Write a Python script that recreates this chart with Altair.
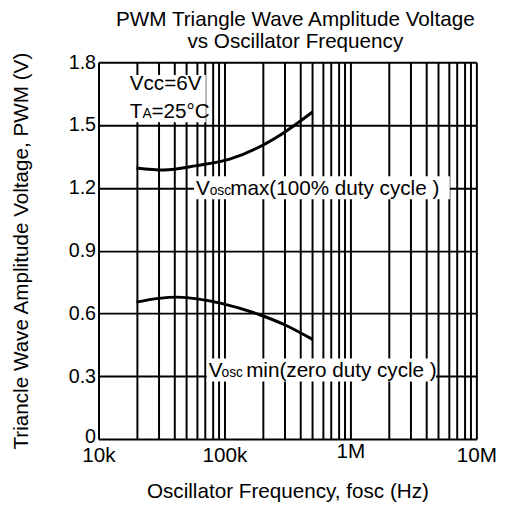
import altair as alt
import pandas as pd

FONT = "Liberation Sans"

# ---- curve data ----
freq_max = [20000, 33000, 60000, 110000, 180000, 290000, 500000]
vosc_max = [1.295, 1.285, 1.306, 1.337, 1.389, 1.460, 1.562]
freq_min = [20000, 30000, 42000, 98000, 188000, 300000, 500000]
vosc_min = [0.654, 0.672, 0.678, 0.646, 0.595, 0.546, 0.476]

# ---- axis ticks ----
x_ticks = [10000, 20000, 30000, 40000, 50000, 60000, 70000, 80000, 90000,
           100000, 200000, 300000, 400000, 500000, 600000, 700000, 800000, 900000,
           1000000, 2000000, 3000000, 4000000, 5000000, 6000000, 7000000, 8000000, 9000000,
           10000000]
y_ticks = [0, 0.3, 0.6, 0.9, 1.2, 1.5, 1.8]

# ---- annotation boxes (white backgrounds) ----
box_f = [17100, 57300, 72300]
box_f2 = [71000, 6150000, 4780000]
box_v = [1.513, 1.145, 0.275]
box_v2 = [1.739, 1.255, 0.385]

# ---- annotation anchors / texts ----
cond_f = 17700
cond_v = [1.70, 1.565]
max_f, max_v = 59300, 1.2
min_f, min_v = 75000, 0.33

X = alt.X(
    "f:Q",
    scale=alt.Scale(type="log", domain=[1e4, 1e7], nice=False),
    axis=alt.Axis(
        values=x_ticks,
        labelExpr=("datum.value == 10000 ? '10k' : datum.value == 100000 ? '100k' : "
                   "datum.value == 1000000 ? '1M' : datum.value == 10000000 ? '10M' : ''"),
        title="Oscillator Frequency, fosc (Hz)",
        grid=True, gridColor="black", gridWidth=2, gridOpacity=1,
        ticks=False, domain=False,
        labelFont=FONT, labelFontSize=21, labelColor="black",
        labelPadding={"condition": {"test": "datum.value == 1000000", "value": 2}, "value": 6},
        labelOverlap=False, labelFlush=False,
        titleFont=FONT, titleFontSize=21, titleFontWeight="normal", titleColor="black",
        titlePadding=15,
    ),
)
Y = alt.Y(
    "v:Q",
    scale=alt.Scale(domain=[0, 1.8], nice=False, zero=True),
    axis=alt.Axis(
        values=y_ticks,
        labelExpr="datum.value == 0 ? '0' : format(datum.value, '.1f')",
        title="Triancle Wave Amplitude Voltage, PWM (V)",
        grid=True, gridColor="black", gridWidth=2, gridOpacity=1,
        ticks=False, domain=False,
        labelFont=FONT, labelFontSize=20, labelColor="black", labelPadding=3,
        labelOffset={"condition": {"test": "datum.value == 0", "value": -3}, "value": 0},
        labelOverlap=False, labelFlush=False,
        titleFont=FONT, titleFontSize=21, titleFontWeight="normal", titleColor="black",
        titlePadding=37,
    ),
)

boxes = alt.Chart(pd.DataFrame({"f": box_f, "f2": box_f2, "v": box_v, "v2": box_v2})).mark_rect(
    color="white", opacity=1
).encode(x=X, x2="f2:Q", y=Y, y2="v2:Q")

curves = pd.concat([
    pd.DataFrame({"f": freq_max, "v": vosc_max, "s": "max"}),
    pd.DataFrame({"f": freq_min, "v": vosc_min, "s": "min"}),
])
lines = alt.Chart(curves).mark_line(color="black", strokeWidth=3, interpolate="monotone").encode(
    x=X, y=Y, detail="s:N"
)


def frag(f, v, text, dx, size):
    return alt.Chart(pd.DataFrame({"f": [f], "v": [v], "t": [text]})).mark_text(
        align="left", baseline="alphabetic", dx=dx, dy=7, fontSize=size, font=FONT, color="black"
    ).encode(x=X, y=Y, text="t:N")


texts = [
    frag(cond_f, cond_v[0], "Vcc=6V", 0, 21),
    frag(cond_f, cond_v[1], "T", 0, 21),
    frag(cond_f, cond_v[1], "A", 13, 14),
    frag(cond_f, cond_v[1], "=25°C", 22, 21),
    frag(max_f, max_v, "V", 0, 21),
    frag(max_f, max_v, "osc", 14, 14),
    frag(max_f, max_v, "max(100% duty cycle )", 35, 21),
    frag(min_f, min_v, "V", 0, 21),
    frag(min_f, min_v, "osc", 13, 14),
    frag(min_f, min_v, "min(zero duty cycle )", 38, 21),
]

chart = alt.layer(boxes, lines, *texts).properties(
    width=384,
    height=383,
    autosize=alt.AutoSizeParams(type="none"),
    padding={"left": 92, "top": 51, "right": 24, "bottom": 68},
    title=alt.TitleParams(
        text=["PWM Triangle Wave Amplitude Voltage", "vs Oscillator Frequency"],
        font=FONT, fontSize=21, fontWeight="normal", color="black",
        anchor="middle", dx=8, offset=0, lineHeight=22,
    ),
).configure_view(stroke="black", strokeWidth=2).configure(background="white")

chart.save("out.html", embed_options={"renderer": "svg", "actions": False})
